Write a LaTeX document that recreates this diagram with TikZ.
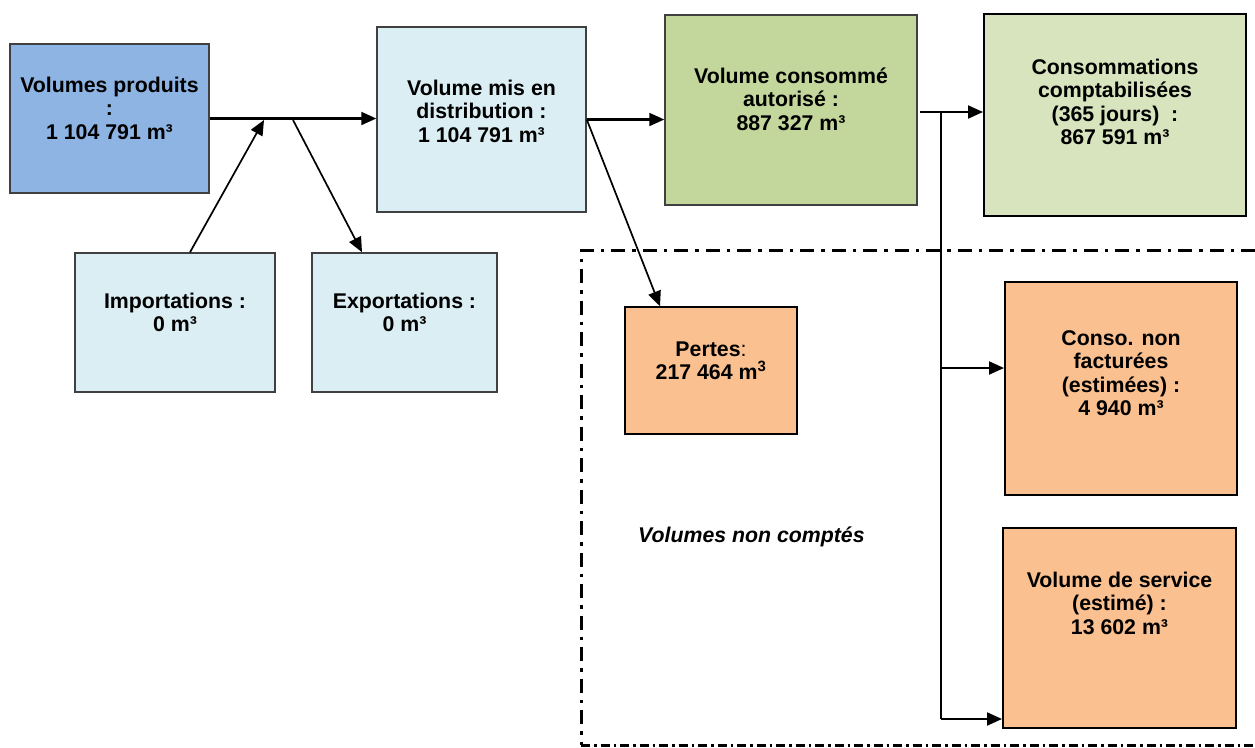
\documentclass[tikz,border=0pt]{standalone}
\usepackage{fontspec}
\setmainfont{Liberation Sans}
\usetikzlibrary{arrows.meta}
\definecolor{cblue}{HTML}{8EB4E3}
\definecolor{clight}{HTML}{DBEEF4}
\definecolor{cgreen}{HTML}{C3D69B}
\definecolor{cgreenl}{HTML}{D7E4BD}
\definecolor{corange}{HTML}{FAC090}
\definecolor{cborder}{HTML}{404040}
\tikzset{
  box/.style={rectangle, draw=cborder, line width=1.5pt, inner sep=0pt},
  boxk/.style={rectangle, draw=black, line width=2pt, inner sep=0pt},
  txt/.style={font=\fontsize{21.3}{23.5}\selectfont\bfseries, align=center, inner sep=0pt, anchor=base},
  arr/.style={line width=2.1pt, -{Triangle[length=15pt,width=13pt]}},
  tarr/.style={line width=1.7pt, -{Triangle[length=15pt,width=13pt]}},
  conn/.style={line width=2.1pt},
  zone/.style={line width=3pt, dash pattern=on 14pt off 7pt on 3.5pt off 7pt},
  zoneb/.style={line width=3pt, dash pattern=on 9pt off 4pt on 2.5pt off 4pt}
}
\begin{document}
\begin{tikzpicture}[x=1pt,y=-1pt]
\useasboundingbox (0,0) rectangle (1255,747);

% boxes
\node[box, fill=cblue, minimum width=199pt, minimum height=149pt] (b1) at (109.5,118.5) {};
\node[box, fill=clight, minimum width=200pt, minimum height=139pt] (imp) at (175,322.5) {};
\node[box, fill=clight, minimum width=185pt, minimum height=139pt] (exp) at (404.5,322.5) {};
\node[box, fill=clight, minimum width=209pt, minimum height=185pt] (b2) at (481.5,119.5) {};
\node[box, fill=cgreen, minimum width=252pt, minimum height=190pt] (b3) at (791,110) {};
\node[boxk, fill=cgreenl, minimum width=262pt, minimum height=202pt] (cc) at (1115,115) {};
\node[box, draw=black, fill=corange, minimum width=172pt, minimum height=127pt] (pt) at (711,370.5) {};
\node[boxk, fill=corange, minimum width=232pt, minimum height=213pt] (cnf) at (1121,388.5) {};
\node[boxk, fill=corange, minimum width=233pt, minimum height=200pt] (vs) at (1119.5,628) {};

% texts (anchor base = baseline of the last line)
\node[txt] (b1t) at (109.5,139) {Volumes produits\\:\\1 104 791 m³};
\node[txt] (impt) at (175,331.5) {Importations :\\0 m³};
\node[txt] (expt) at (404.5,331.5) {Exportations :\\0 m³};
\node[txt] (b2t) at (481.5,142) {Volume mis en\\distribution :\\1 104 791 m³};
\node[txt] (b3t) at (791,130) {Volume consommé\\autorisé :\\887 327 m³};
\node[txt] (cct) at (1115,144.5) {Consommations\\comptabilisées\\(365 jours)\ \ :\\867 591 m³};
\node[txt] (ptt) at (711,379.5) {Pertes{\mdseries:}\\217 464 m\textsuperscript{3}};
\node[txt] (cnft) at (1121,415.5) {Conso. non\\facturées\\(estimées) :\\4 940 m³};
\node[txt] (vst) at (1119.5,634) {Volume de service\\(estimé) :\\13 602 m³};
\node[txt, anchor=base west, font=\fontsize{21.3}{23.5}\selectfont\bfseries\itshape] (vnc) at (638,542) {Volumes non comptés};

% zone of uncounted volumes
\draw[zone] (1255,250) -- (581,250) -- (581,745);
\draw[zoneb] (581,745) -- (1255,745);

% coordinates for junctions
\coordinate (ix) at (190,0);
\coordinate (j1) at (264,120);
\coordinate (j2) at (293,120);
\coordinate (ex) at (362,0);
\coordinate (px) at (660,0);
\coordinate (s3) at (920,112);
\coordinate (k) at (941,112);
\coordinate (km) at (941,368);
\coordinate (kb) at (941,719);

% connectors
\draw[arr] (b1.east) -- (b1.east -| b2.west);
\draw[tarr] (imp.north -| ix) -- (j1);
\draw[tarr] (j2) -- (exp.north -| ex);
\draw[arr] (b2.east) -- (b2.east -| b3.west);
\draw[tarr] (b2.east) -- (pt.north -| px);
\draw[arr] (s3) -- (s3 -| cc.west);
\draw[conn] (k) -- (kb);
\draw[arr] (km) -- (km -| cnf.west);
\draw[arr] (kb) -- (kb -| vs.west);
\end{tikzpicture}
\end{document}
